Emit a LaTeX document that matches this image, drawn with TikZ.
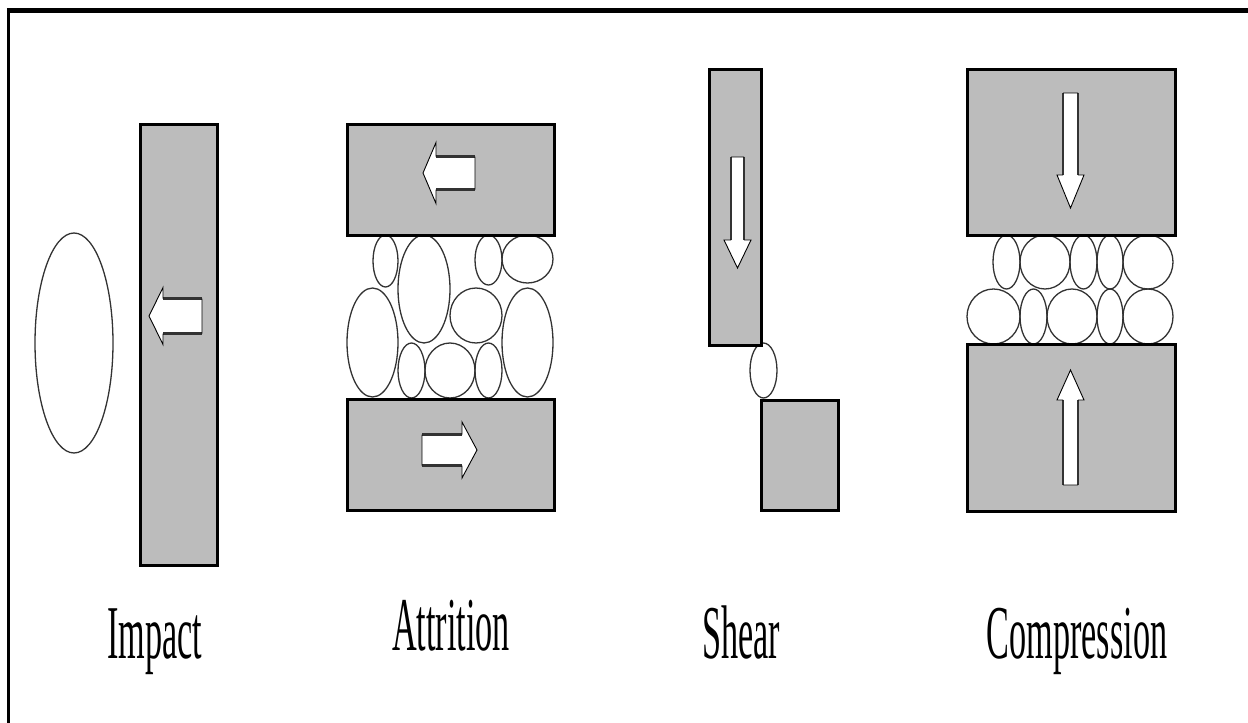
\documentclass[tikz,border=0pt]{standalone}
\usepackage{fontspec}
\setmainfont{Liberation Serif}
\usepackage{graphicx}
\definecolor{plategray}{RGB}{188,188,188}
\tikzset{
    plate/.style={draw, line width=3pt, fill=plategray},
    grain/.style={draw=black!80, line width=1.3pt},
    mechname/.style={anchor=base, inner sep=0pt, font=\fontsize{76}{80}\selectfont},
}
% tip, angle, length, head length, head half width, shaft half width
\newcommand{\blockarrow}[6]{%
    \begin{scope}[shift={#1}, rotate=#2]
        \fill[white](0, 0)--(-#4, #5)--(-#4, #6)--(-#3, #6)--(-#3, -#6)--(-#4, -#6)--(-#4, -#5)--cycle;
        \draw[line width=2.5pt, black!80](-#4, #6)--(-#3, #6) (-#4, -#6)--(-#3, -#6);
        \draw[line width=.9pt](-#4, -#6)--(-#4, -#5)--(0, 0)--(-#4, #5)--(-#4, #6) (-#3, #6)--(-#3, -#6);
    \end{scope}}

\begin{document}
\begin{tikzpicture}[x=1pt, y=-1pt]
    \useasboundingbox(0, 0) rectangle (1248, 723);
    \draw[line width=3.5pt](8.5, 723)--(8.5, 8);
    \draw[line width=4.5pt](6.75, 10.3)--(1248, 10.3);

    % impact
    \draw[grain](74, 343) ellipse [x radius=39, y radius=110];
    \draw[plate](140, 124) rectangle (217, 565);
    \blockarrow{(149, 316)}{180}{53}{14}{28.5}{17.5}

    % attrition
    \foreach \x/\y/\rx/\ry in {385.5/261/12.5/26, 424/289/26/54, 488.5/260/13.5/25, 527.5/259/25.5/24,
        372.5/342.5/25.5/54.5, 476/315.5/26/27.5, 527.5/342.5/25.5/54.5,
        411.5/370.5/13.5/27.5, 450/370.5/25/27.5, 488.5/370.5/13.5/27.5}
        \draw[grain](\x, \y) ellipse [x radius=\rx, y radius=\ry];
    \draw[plate](347, 124) rectangle (554, 235);
    \draw[plate](347, 399) rectangle (554, 510);
    \blockarrow{(423, 173)}{180}{52}{13}{30.5}{16.5}
    \blockarrow{(477, 450)}{0}{55}{15}{28}{15.5}

    % shear
    \draw[grain](763.5, 370.5) ellipse [x radius=13.5, y radius=27.5];
    \draw[plate](709, 69) rectangle (761, 345);
    \draw[plate](761, 400) rectangle (838, 510);
    \blockarrow{(737.5, 268)}{-90}{111}{28}{13.5}{6.5}

    % compression
    \foreach \x/\rx in {1006.5/13.5, 1045/25, 1083.5/13.5, 1110/13, 1148/25}
        \draw[grain](\x, 262) ellipse [x radius=\rx, y radius=27];
    \foreach \x/\rx in {993.5/26.5, 1033.5/13.5, 1072/25, 1110/13, 1148/25}
        \draw[grain](\x, 316.5) ellipse [x radius=\rx, y radius=27.5];
    \draw[plate](967, 69) rectangle (1175, 235);
    \draw[plate](967, 344) rectangle (1175, 511);
    \blockarrow{(1070.5, 208)}{-90}{115}{33}{13.5}{7.5}
    \blockarrow{(1070.5, 370)}{90}{115}{30}{13.5}{7.5}

    \node[mechname](impact) at (155, 658){\scalebox{.45}[1]{Impact}};
    \node[mechname](attrition) at (451, 650){\scalebox{.45}[1]{Attrition}};
    \node[mechname](shear) at (741, 658){\scalebox{.45}[1]{Shear}};
    \node[mechname](compression) at (1077, 658){\scalebox{.45}[1]{Compression}};
\end{tikzpicture}
\end{document}
